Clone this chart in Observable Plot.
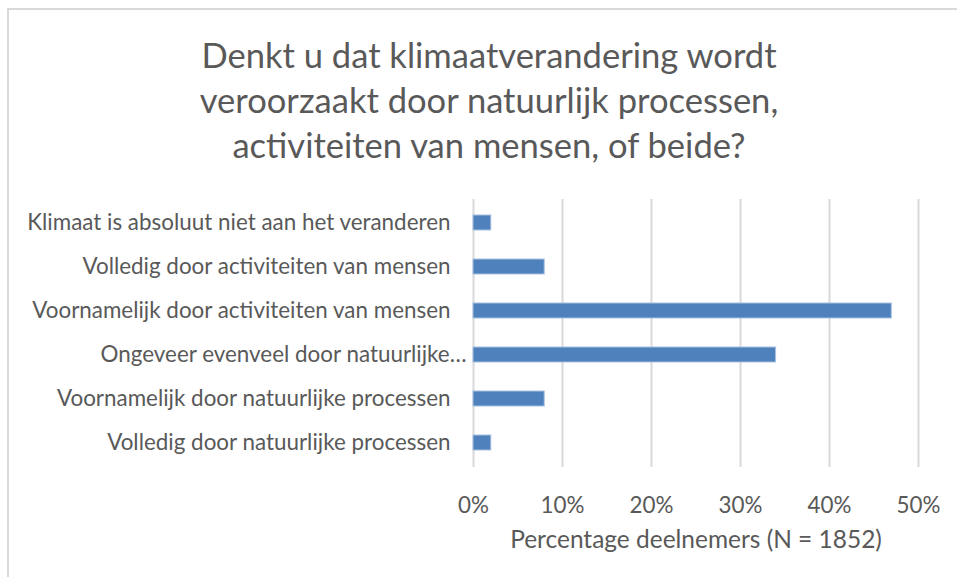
<!DOCTYPE html>
<html>
<head>
<meta charset="utf-8">
<script src="https://cdn.jsdelivr.net/npm/d3@7"></script>
<script src="https://cdn.jsdelivr.net/npm/@observablehq/plot@0.6"></script>
<style>
  body { margin: 0; background: #fff; }
  #wrap { position: relative; width: 957px; height: 577px; overflow: hidden; background: #fff; }
  #frame { position: absolute; left: 7px; top: 8px; width: 1000px; height: 1000px;
           border-left: 2px solid #d9d9d9; border-top: 2px solid #d9d9d9; box-sizing: border-box; }
  #title { position: absolute; left: 0; width: 978px; text-align: center; color: #595959;
           font-family: Lato, sans-serif; line-height: 45px; }
  #chart { position: absolute; left: 0; top: 0; }
</style>
</head>
<body>
<div id="wrap">
  <div id="frame"></div>
  <div id="chart"></div>
  <div id="title"></div>
</div>
<script>
const titleLines = [
  "Denkt u dat klimaatverandering wordt",
  "veroorzaakt door natuurlijk processen,",
  "activiteiten van mensen, of beide?"
];
const categories = [
  "Klimaat is absoluut niet aan het veranderen",
  "Volledig door activiteiten van mensen",
  "Voornamelijk door activiteiten van mensen",
  "Ongeveer evenveel door natuurlijke…",
  "Voornamelijk door natuurlijke processen",
  "Volledig door natuurlijke processen"
];
const values = [2, 8, 47, 34, 8, 2];
const xTicks = [0, 10, 20, 30, 40, 50];
const xLabel = "Percentage deelnemers (N = 1852)";
const truncated = categories.filter(c => c.endsWith("…"));
const fullLabels = categories.filter(c => !c.endsWith("…"));

const data = categories.map((c, i) => ({category: c, value: values[i]}));

// fit font sizes to measured widths of the reference
const ctx = document.createElement("canvas").getContext("2d");
function fit(text, target) {
  ctx.font = "100px Lato";
  return 100 * target / ctx.measureText(text).width;
}
const titleSize = fit(titleLines[0], 576);
const labelSize = fit(categories[0], 424);
const axisTitleSize = fit(xLabel, 372);

const title = document.getElementById("title");
title.style.fontSize = titleSize + "px";
title.style.top = (67 - 45 / 2 - titleSize * 0.36) + "px";
title.innerHTML = titleLines.join("<br>");

const chart = Plot.plot({
  width: 957,
  height: 577,
  marginLeft: 473,
  marginRight: 39,
  marginTop: 199,
  marginBottom: 110,
  style: {fontFamily: "Lato, sans-serif", color: "#595959", background: "transparent"},
  x: {domain: [0, 50], ticks: xTicks},
  y: {domain: categories, paddingInner: 0.655, paddingOuter: 0.3275},
  marks: [
    Plot.gridX(xTicks, {stroke: "#d9d9d9", strokeOpacity: 1, strokeWidth: 2}),
    Plot.barX(data, {x: "value", y: "category", fill: "#4f81bd", stroke: "#a9c1e0", strokeWidth: 1}),
    Plot.axisY(fullLabels, {tickSize: 0, tickPadding: 23, fontSize: labelSize, label: null, fill: "#595959"}),
    Plot.axisY(truncated, {tickSize: 0, tickPadding: 7, fontSize: labelSize, label: null, fill: "#595959"}),
    Plot.axisX({tickSize: 0, tickPadding: 30, fontSize: labelSize, tickFormat: d => d + "%", label: null, fill: "#595959"}),
    Plot.text([xLabel], {frameAnchor: "bottom", dy: 80, fontSize: axisTitleSize, fill: "#595959", lineAnchor: "bottom"})
  ]
});
document.getElementById("chart").appendChild(chart);
</script>
</body>
</html>
